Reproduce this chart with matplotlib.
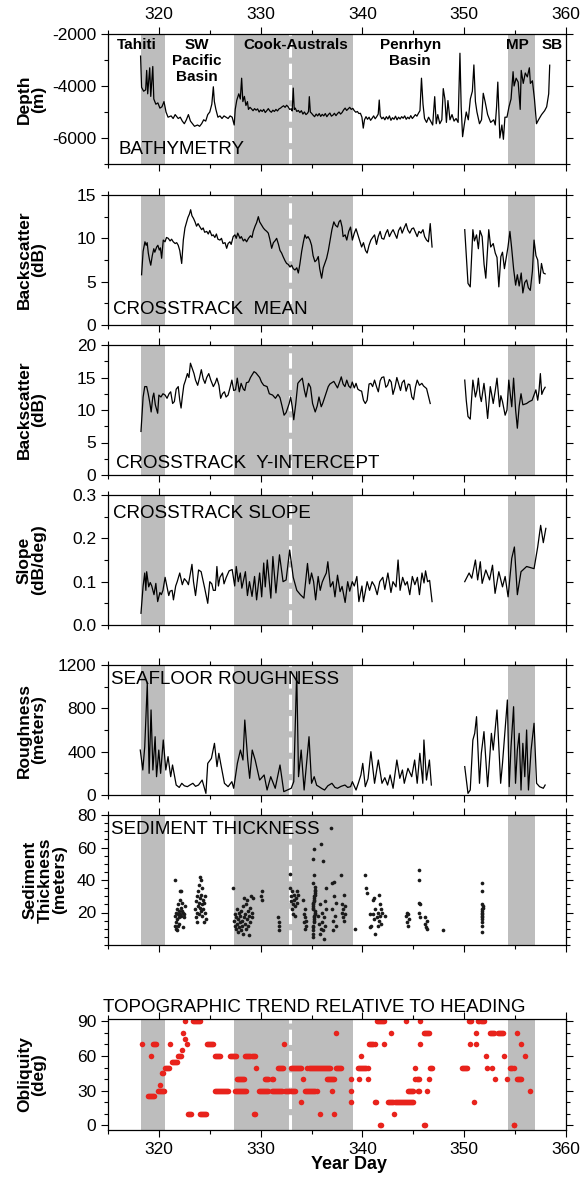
import numpy as np
import matplotlib
matplotlib.use('Agg')
import matplotlib.pyplot as plt
from matplotlib.ticker import MultipleLocator, FixedLocator

plt.rcParams['font.family'] = ['Liberation Sans', 'DejaVu Sans']
plt.rcParams['axes.unicode_minus'] = False

# shaded provinces and the dashed marker (year day)
bands = [(318.24, 320.6), (327.39, 339.12), (354.27, 357.0)]
dash_day = 332.92
regions = ['Tahiti', 'SW\nPacific\nBasin', 'Cook-Australs', 'Penrhyn\nBasin', 'MP', 'SB']
region_day = [317.85, 323.7, 333.45, 344.7, 355.25, 358.6]

bathy_day = [318.2, 318.3, 318.5, 318.7, 318.8, 318.9, 319.1, 319.2, 319.4, 319.5, 319.7, 319.9,
             320.1, 320.3, 320.5, 320.7, 320.9, 321.2, 321.4, 321.6, 321.9, 322.1, 322.3, 322.5,
             322.7, 322.9, 323.1, 323.3, 323.5, 323.8, 324.0, 324.2, 324.4, 324.6, 324.8, 325.0,
             325.2, 325.35, 325.45, 325.6, 325.8, 326.0, 326.2, 326.4, 326.6, 326.8, 327.0, 327.2,
             327.4, 327.5, 327.65, 327.85, 328.0, 328.13, 328.25, 328.4, 328.55, 328.7,
             328.8, 328.95, 329.1, 329.25, 329.4, 329.55, 329.7, 329.85, 330.0, 330.15, 330.3, 330.45,
             330.6, 330.75, 330.9, 331.05, 331.2, 331.35, 331.5, 331.65, 331.8, 331.95, 332.1, 332.25,
             332.4, 332.55, 332.7, 332.85, 333.0, 333.1, 333.2, 333.3, 333.4, 333.55, 333.7, 333.85,
             334.0, 334.15, 334.3, 334.45, 334.6, 334.7, 334.78, 334.88, 335.0, 335.15, 335.3, 335.45,
             335.6, 335.75, 335.9, 336.05, 336.2, 336.35, 336.5, 336.65, 336.8, 336.95, 337.1, 337.25,
             337.4, 337.55, 337.7, 337.85, 338.0, 338.15, 338.3, 338.45, 338.6, 338.75, 338.9, 339.05,
             339.2, 339.35, 339.5, 339.65, 339.8, 339.95, 340.08, 340.2, 340.35, 340.5, 340.65, 340.8,
             340.95, 341.1, 341.25, 341.4, 341.55, 341.65, 341.75, 341.9, 342.05, 342.2, 342.35, 342.5,
             342.65, 342.8, 342.95, 343.1, 343.25, 343.4, 343.55, 343.7, 343.85, 344.0, 344.15, 344.3,
             344.45, 344.6, 344.75, 344.9, 345.05, 345.2, 345.35, 345.5, 345.65, 345.8, 345.95, 346.1,
             346.3, 346.5, 346.7, 346.9, 347.1, 347.25, 347.4, 347.6, 347.8, 347.94, 348.1, 348.25,
             348.4, 348.6, 348.8, 349.0, 349.2, 349.4, 349.58, 349.7, 349.84, 350.0, 350.2, 350.4,
             350.6, 350.8, 350.95, 351.1, 351.25, 351.5, 351.7, 351.87, 352.05, 352.3, 352.6, 352.9,
             353.05, 353.18, 353.3, 353.5, 353.7, 353.85, 354.0, 354.2, 354.4, 354.6, 354.8, 354.9,
             355.1, 355.3, 355.5, 355.6, 355.8, 356.0, 356.2, 356.4, 356.5, 356.7, 356.9, 357.1,
             357.3, 357.6, 357.9, 358.1, 358.3, 358.4]
bathy_m = [-2850, -4050, -4200, -4150, -3400, -4300, -3300, -4400, -3250, -4500, -4700, -4650,
           -4850, -4800, -4600, -5000, -5200, -5150, -5250, -5100, -5250, -5200, -5350, -5450,
           -5300, -5100, -5350, -5450, -5550, -5500, -5550, -5450, -5300, -5350, -5100, -5000,
           -4700, -4030, -4600, -4900, -5200, -5150, -5250, -5150, -5200, -5250, -5150, -5200,
           -5500, -4900, -4550, -4300, -4500, -3700, -4600, -4400, -4750, -4600,
           -4900, -4820, -4880, -4950, -4870, -4930, -4880, -5000, -4920, -4980, -4900, -5020,
           -4950, -4870, -4960, -5010, -4930, -4980, -4900, -4960, -4880, -4850, -4800, -4760,
           -4820, -4740, -4800, -4900, -4880, -4960, -4080, -4900, -4850, -4980, -4940, -5020,
           -4950, -5080, -5000, -5100, -5050, -4980, -4410, -5000, -5050, -5120, -5180, -5080,
           -5150, -5060, -5170, -5090, -5150, -5060, -5180, -5100, -5040, -5160, -5120, -5050,
           -5140, -5060, -5000, -5080, -5020, -4920, -4850, -4940, -4880, -4820, -4900, -4860,
           -4950, -5010, -4980, -5060, -5050, -5200, -5620, -5300, -5180, -5280, -5200, -5320,
           -5240, -5150, -5260, -5180, -5080, -4540, -5150, -5260, -5200, -5300, -5180, -5270,
           -5150, -5320, -5220, -5280, -5160, -5300, -5200, -5270, -5180, -5240, -5150, -5280,
           -5200, -5260, -5140, -5250, -5180, -5100, -5160, -5050, -4950, -3700, -4700, -5250,
           -5400, -5200, -5350, -5500, -4410, -5450, -5100, -5450, -5300, -4100, -4500, -5400,
           -4560, -5300, -5100, -5350, -5250, -5400, -2740, -4800, -5950, -5500, -5000, -5300,
           -4500, -4200, -3190, -4600, -5000, -5450, -5300, -4280, -4600, -5100, -5400, -5300,
           -5500, -4800, -3850, -6000, -5500, -6050, -5200, -5200, -4800, -4500, -3450, -4000,
           -3700, -3850, -4900, -3400, -3900, -3500, -3650, -3300, -3900, -3800, -4500, -5450,
           -5300, -5100, -4950, -4800, -4300, -3200]

mean_day = [318.3, 318.45, 318.63, 318.75, 318.85, 318.96, 319.08, 319.2, 319.35, 319.5, 319.6, 319.78,
            319.9, 320.04, 320.15, 320.27, 320.43, 320.6, 320.75, 320.92, 321.1, 321.25, 321.41, 321.6,
            321.75, 321.9, 322.05, 322.15, 322.24, 322.4, 322.56, 322.7, 322.85, 323.0, 323.12, 323.25,
            323.4, 323.55, 323.7, 323.85, 324.04, 324.2, 324.35, 324.5, 324.7, 324.85, 325.0, 325.2,
            325.34, 325.5, 325.65, 325.8, 326.0, 326.15, 326.3, 326.5, 326.66, 326.8, 326.98, 327.1,
            327.3, 327.47, 327.6, 327.75, 327.97, 328.1, 328.3, 328.45, 328.62, 328.8, 329.0, 329.15,
            329.27, 329.45, 329.6, 329.77, 329.9, 330.05, 330.26, 330.4, 330.6, 330.75, 330.9, 331.08,
            331.25, 331.4, 331.57, 331.75, 331.9, 332.06, 332.2, 332.4, 332.55, 332.7, 332.88, 333.05,
            333.2, 333.37, 333.55, 333.7, 333.85, 334.03, 334.2, 334.35, 334.5, 334.65, 334.84, 335.0,
            335.15, 335.33, 335.5, 335.66, 335.8, 335.99, 336.15, 336.3, 336.48, 336.65, 336.82,
            337.0, 337.19, 337.35, 337.55, 337.7, 337.84, 338.0, 338.1, 338.3,
            338.46, 338.65, 338.83, 339.01, 339.2, 339.37, 339.55, 339.75, 339.92, 340.1, 340.3, 340.46,
            340.65, 340.83, 341.0, 341.19, 341.38, 341.55, 341.74, 341.9, 342.1, 342.3, 342.47, 342.65,
            342.85, 343.01, 343.2, 343.38, 343.55, 343.74, 343.9, 344.1, 344.29, 344.45, 344.65, 344.85,
            345.02, 345.2, 345.38, 345.55, 345.75, 345.95, 346.11, 346.3, 346.48, 346.66, 346.84, 348.0,
            350.05, 350.2, 350.37, 350.59, 350.85, 351.0, 351.21, 351.39, 351.55, 351.76, 351.95, 352.12,
            352.41, 352.6, 352.85, 353.05, 353.22, 353.4, 353.6, 353.76, 353.95, 354.13, 354.3, 354.49,
            354.65, 354.85, 355.05, 355.22, 355.4, 355.6, 355.76, 355.95, 356.13, 356.3, 356.49, 356.7,
            356.86, 357.05, 357.22, 357.4, 357.59, 357.78, 357.95]
mean_db = [5.8, 8.5, 9.6, 9.2, 9.5, 8.3, 7.5, 6.9, 8.0, 8.8, 8.4, 9.0,
           9.2, 8.65, 8.9, 7.7, 9.8, 9.6, 10.1, 10.0, 9.7, 9.9, 9.6, 9.4,
           9.5, 9.2, 8.6, 7.8, 7.1, 9.8, 11.2, 11.8, 12.4, 12.8, 13.3, 12.6,
           12.3, 11.9, 11.4, 11.7, 11.3, 11.0, 11.2, 10.7, 10.8, 10.5, 10.9, 10.3,
           10.4, 10.1, 10.5, 9.9, 9.8, 10.0, 9.4, 9.5, 8.85, 9.4, 9.6, 9.3,
           10.2, 10.4, 10.0, 10.6, 10.0, 10.2, 9.7, 9.9, 9.6, 10.0, 10.3, 10.1,
           10.8, 11.4, 11.8, 12.5, 11.9, 11.6, 11.2, 11.0, 10.8, 10.6, 9.9, 8.85,
           9.5, 9.7, 10.0, 9.3, 8.6, 8.3, 7.9, 7.4, 7.1, 7.0, 6.7, 6.9,
           6.5, 6.35, 6.6, 6.0, 7.0, 8.5, 9.6, 10.4, 10.0, 10.2, 9.8, 9.2,
           8.0, 7.3, 7.5, 7.9, 6.5, 5.4, 6.6, 7.1, 7.7, 8.6, 9.8,
           11.0, 11.9, 11.5, 11.3, 11.9, 12.1, 11.3, 10.2, 10.4,
           9.8, 10.8, 11.3, 9.8, 10.6, 11.1, 10.4, 9.6, 9.0, 9.5, 8.6, 8.3,
           9.2, 9.8, 10.1, 10.4, 9.3, 10.2, 10.8, 10.0, 9.9, 10.6, 11.0, 10.2,
           10.7, 11.0, 10.5, 10.0, 10.9, 11.3, 10.6, 11.2, 11.7, 11.0, 10.6, 11.1,
           11.2, 10.7, 10.2, 10.8, 10.6, 11.0, 10.2, 9.8, 9.6, 11.7, 9.0, np.nan,
           11.0, 8.0, 4.8, 4.4, 11.0, 9.7, 10.4, 8.8, 10.9, 10.2, 7.0, 5.4,
           11.0, 9.0, 9.4, 8.3, 7.8, 4.4, 7.9, 8.4, 6.5, 7.8, 9.0, 10.8,
           9.0, 6.5, 4.6, 5.8, 4.5, 6.0, 3.7, 4.9, 5.2, 4.3, 4.0, 6.2,
           9.8, 8.0, 7.5, 4.8, 7.1, 6.0, 5.9]

icpt_day = [318.24, 318.45, 318.61, 318.8, 318.95, 319.1, 319.24, 319.4, 319.5, 319.65, 319.88, 320.0,
            320.2, 320.4, 320.61, 320.8, 321.0, 321.16, 321.35, 321.52, 321.7, 321.9, 322.05, 322.18,
            322.3, 322.45, 322.6, 322.8, 322.95, 323.1, 323.25, 323.45, 323.6, 323.81, 324.0, 324.17,
            324.35, 324.53, 324.7, 324.9, 325.1, 325.35, 325.55, 325.7, 325.9, 326.07, 326.25, 326.44,
            326.6, 326.8, 327.0, 327.17, 327.35, 327.53, 327.7, 327.9, 328.08, 328.3, 328.44, 328.6,
            328.81, 329.0, 329.2, 329.35, 329.54, 329.75, 329.9, 330.08, 330.3, 330.63, 330.85, 331.17,
            331.45, 331.7, 331.9, 332.1, 332.3, 332.5, 332.8, 332.95, 333.1, 333.25, 333.45, 333.65,
            333.8, 334.09, 334.3, 334.45, 334.7, 334.9, 335.1, 335.36, 335.55, 335.73, 335.95, 336.09,
            336.3, 336.64, 336.8, 337.0, 337.19, 337.4, 337.55, 337.8, 337.92, 338.1, 338.28, 338.46,
            338.65, 338.83, 339.0, 339.2, 339.37, 339.55, 339.74, 339.92, 340.1, 340.28, 340.46, 340.65,
            340.83, 341.0, 341.19, 341.4, 341.56, 341.74, 341.9, 342.1, 342.3, 342.47, 342.65, 342.83,
            343.0, 343.2, 343.38, 343.56, 343.74, 343.9, 344.1, 344.29, 344.5, 344.65, 344.85, 345.02,
            345.2, 345.38, 345.6, 345.84, 346.0, 346.3, 346.5, 346.66, 348.0,
            350.05, 350.2, 350.37, 350.59, 350.85, 351.1, 351.25, 351.39, 351.55, 351.68, 351.94, 352.1,
            352.3, 352.56, 352.7, 352.85, 353.05, 353.22, 353.47, 353.6, 353.76, 354.02, 354.2, 354.38,
            354.52, 354.67, 354.85, 355.05, 355.22, 355.4, 355.58, 355.76, 356.13, 356.4, 356.67, 357.04,
            357.22, 357.35, 357.48, 357.62, 357.77, 357.95]
icpt_db = [6.7, 12.0, 13.6, 13.6, 12.5, 11.2, 9.7, 12.0, 12.6, 10.8, 9.5, 12.3,
           12.0, 12.5, 12.3, 11.8, 12.5, 12.8, 11.0, 11.3, 13.2, 13.6, 11.5, 10.3,
           12.0, 13.8, 14.5, 15.6, 15.0, 17.2, 16.5, 15.6, 14.6, 13.8, 15.0, 16.2,
           14.8, 14.1, 15.0, 15.6, 14.6, 13.6, 14.2, 14.9, 13.8, 11.8, 12.5, 12.8,
           12.0, 12.3, 13.5, 14.6, 13.0, 13.1, 14.9, 12.8, 14.1, 13.2, 13.0, 14.2,
           14.3, 15.0, 15.5, 15.9, 15.7, 15.3, 15.0, 14.3, 13.8, 13.6, 12.5, 12.3,
           11.8, 12.4, 11.9, 10.6, 9.2, 9.6, 11.0, 12.0, 10.5, 8.5, 11.0, 14.1,
           14.4, 14.9, 13.0, 12.0, 14.1, 13.5, 11.0, 9.7, 10.6, 12.0, 10.5, 11.0,
           12.0, 13.6, 14.0, 14.2, 14.4, 13.8, 13.4, 14.5, 15.1, 14.0, 13.6, 14.6,
           13.7, 13.4, 14.3, 13.4, 14.1, 13.2, 13.0, 12.9, 11.5, 11.0, 11.5, 14.0,
           14.1, 13.6, 14.6, 13.5, 12.8, 14.5, 15.0, 15.1, 13.5, 13.8, 14.7, 14.3,
           12.4, 13.5, 15.0, 14.0, 13.0, 14.2, 14.6, 12.9, 14.0, 13.9, 12.0, 11.6,
           13.5, 14.6, 13.8, 14.1, 13.7, 13.3, 12.0, 11.0, np.nan,
           14.6, 11.5, 9.0, 8.6, 14.6, 12.0, 13.0, 14.9, 12.2, 11.3, 14.1, 12.0,
           8.7, 13.6, 12.4, 11.0, 13.0, 14.9, 10.5, 12.2, 11.3, 9.2, 10.0, 14.6,
           12.5, 10.5, 14.9, 10.0, 7.2, 10.6, 12.5, 10.8, 11.0, 11.3, 11.5, 13.1,
           11.5, 13.0, 15.6, 12.4, 13.0, 13.5]

slope_day = [318.24, 318.45, 318.61, 318.72, 318.8, 319.0, 319.15, 319.3, 319.52, 319.7, 319.88, 320.1,
             320.24, 320.4, 320.61, 320.8, 320.97, 321.1, 321.3, 321.43, 321.65, 321.8, 322.05, 322.3,
             322.5, 322.75, 322.9, 323.25, 323.4, 323.6, 323.9, 324.15, 324.5, 324.8, 325.0, 325.2,
             325.35, 325.55, 325.7, 325.85, 326.0, 326.25, 326.4, 326.62, 326.9, 327.2, 327.45, 327.6,
             327.8, 328.0, 328.15, 328.5, 328.7, 328.9, 329.15, 329.4, 329.6, 329.9, 330.1, 330.3,
             330.45, 330.65, 331.0, 331.2, 331.5, 331.85, 332.2, 332.5, 332.85, 333.2, 333.55, 333.9,
             334.25, 334.6, 334.8, 335.0, 335.2, 335.4, 335.65, 335.85, 336.05, 336.25, 336.45, 336.6,
             336.85, 337.1, 337.3, 337.55, 337.8, 338.0, 338.3, 338.55, 338.75, 339.0, 339.2, 339.45,
             339.65, 339.95, 340.1, 340.46, 340.7, 340.95, 341.2, 341.45, 341.7, 342.0, 342.2, 342.5,
             342.8, 343.0, 343.3, 343.5, 343.7, 343.95, 344.2, 344.4, 344.65, 344.9, 345.15, 345.4,
             345.6, 345.85, 346.05, 346.2, 346.4, 346.6, 346.84, 348.0,
             350.05, 350.48, 350.74, 351.1, 351.32, 351.58, 351.76, 352.12, 352.49, 352.78, 353.03, 353.4,
             353.76, 354.02, 354.31, 354.67, 354.93, 355.22, 355.58, 356.13, 356.86, 357.22, 357.51, 357.77,
             358.02]
slope_val = [0.027, 0.090, 0.120, 0.080, 0.123, 0.088, 0.098, 0.090, 0.070, 0.096, 0.054, 0.075,
             0.070, 0.080, 0.110, 0.088, 0.068, 0.078, 0.080, 0.058, 0.090, 0.100, 0.120, 0.093,
             0.107, 0.100, 0.093, 0.140, 0.100, 0.068, 0.127, 0.123, 0.085, 0.050, 0.100, 0.095,
             0.080, 0.080, 0.135, 0.090, 0.110, 0.120, 0.095, 0.110, 0.125, 0.128, 0.090, 0.135,
             0.100, 0.120, 0.085, 0.123, 0.068, 0.100, 0.066, 0.112, 0.058, 0.120, 0.065, 0.143,
             0.088, 0.150, 0.062, 0.158, 0.074, 0.162, 0.100, 0.104, 0.173, 0.110, 0.080, 0.070,
             0.062, 0.142, 0.095, 0.120, 0.100, 0.058, 0.112, 0.080, 0.099, 0.110, 0.120, 0.146,
             0.088, 0.100, 0.065, 0.115, 0.077, 0.089, 0.052, 0.100, 0.078, 0.100, 0.090, 0.112,
             0.054, 0.090, 0.054, 0.100, 0.080, 0.100, 0.090, 0.070, 0.100, 0.110, 0.082, 0.120,
             0.075, 0.100, 0.088, 0.150, 0.080, 0.110, 0.092, 0.100, 0.070, 0.112, 0.093, 0.110,
             0.070, 0.120, 0.097, 0.125, 0.100, 0.103, 0.054, np.nan,
             0.100, 0.120, 0.108, 0.150, 0.104, 0.146, 0.096, 0.127, 0.104, 0.138, 0.073, 0.123,
             0.088, 0.112, 0.065, 0.154, 0.180, 0.070, 0.123, 0.135, 0.130, 0.180, 0.230, 0.190,
             0.223]

rough_day = [318.17, 318.42, 318.61, 318.86, 319.04, 319.23, 319.41, 319.63, 319.77, 319.99, 320.17, 320.43,
             320.68, 320.9, 321.16, 321.34, 321.7, 322.0, 322.25, 322.5, 322.8, 323.1, 323.34, 323.6,
             323.89, 324.25, 324.62, 324.8, 325.16, 325.46, 325.71, 325.89, 326.07, 326.44, 326.8, 327.17,
             327.35, 327.71, 328.01, 328.26, 328.44, 328.73, 328.92, 329.17, 329.46, 329.9, 330.34, 330.63,
             330.99, 331.43, 331.9, 332.27, 332.63, 333.0, 333.25, 333.54, 333.72, 333.98, 334.27, 334.75,
             335.0, 335.26, 335.5, 335.73, 336.0, 336.28, 336.6, 337.0, 337.3, 337.55, 337.9, 338.28,
             338.55, 338.83, 339.01, 339.37, 339.6, 339.85, 340.03, 340.28, 340.55, 340.83, 341.19, 341.56,
             341.92, 342.2, 342.47, 342.72, 343.01, 343.38, 343.67, 343.93, 344.11, 344.47, 344.84, 345.13,
             345.38, 345.64, 345.93, 346.04, 346.29, 346.58, 346.77, 348.0,
             350.05, 350.37, 350.59, 350.85, 351.03, 351.21, 351.5, 351.68, 351.94, 352.3, 352.67, 352.85,
             353.22, 353.58, 353.76, 354.24, 354.42, 354.6, 354.85, 355.04, 355.22, 355.4, 355.58, 355.76,
             355.95, 356.13, 356.31, 356.57, 356.86, 357.11, 357.4, 357.77, 357.95]
rough_m = [415, 231, 446, 1031, 200, 785, 231, 538, 169, 415, 200, 508,
           231, 354, 169, 277, 92, 70, 108, 85, 77, 95, 108, 80,
           92, 138, 15, 292, 338, 477, 262, 385, 292, 108, 77, 123,
           62, 292, 415, 323, 692, 323, 154, 415, 323, 138, 185, 46,
           169, 62, 277, 31, 46, 62, 123, 1138, 169, 415, 46, 538,
           108, 169, 90, 77, 60, 46, 85, 108, 70, 62, 80, 92,
           70, 77, 123, 46, 110, 185, 292, 77, 150, 400, 108, 323,
           108, 160, 92, 185, 62, 323, 154, 231, 108, 246, 169, 323,
           108, 385, 108, 508, 138, 323, 92, np.nan,
           262, 15, 46, 508, 569, 723, 108, 385, 585, 77, 569, 415,
           785, 108, 292, 877, 77, 446, 815, 108, 415, 569, 46, 477,
           169, 600, 46, 415, 662, 108, 77, 62, 92]

sed_day = [321.55, 321.6, 321.62, 321.65, 321.7, 321.72, 321.75, 321.8, 321.82, 321.85, 321.9, 321.92,
           321.95, 322.0, 322.02, 322.05, 322.1, 322.12, 322.15, 322.2, 322.22, 322.25, 322.3, 322.35,
           322.4, 322.45, 322.5, 322.55,
           323.55, 323.6, 323.65, 323.7, 323.72, 323.75, 323.8, 323.85, 323.9, 323.92, 323.95, 324.0,
           324.02, 324.05, 324.1, 324.12, 324.15, 324.2, 324.22, 324.25, 324.3, 324.35, 324.4, 324.45,
           324.5, 324.55, 324.6,
           327.3, 327.4, 327.45, 327.5, 327.55, 327.6, 327.65, 327.7, 327.75, 327.8, 327.85, 327.9,
           327.95, 328.0, 328.05, 328.1, 328.15, 328.2, 328.25, 328.3, 328.35, 328.4, 328.45, 328.5,
           328.55, 328.6, 328.65, 328.7, 328.75, 328.8, 328.85, 328.9, 328.95, 329.0, 329.05, 329.1,
           329.15, 329.2, 330.05, 330.1, 330.12, 331.75, 331.8, 331.82, 331.85,
           332.85, 332.9, 332.95, 333.0, 333.05, 333.1, 333.15, 333.2, 333.25, 333.3, 333.35, 333.4,
           333.5, 333.55, 333.6, 333.65,
           334.2, 334.25, 334.3, 334.35, 334.38, 334.4, 334.45, 334.5,
           335.1, 335.12, 335.14, 335.16, 335.18, 335.2, 335.22, 335.24, 335.26, 335.28, 335.3, 335.32,
           335.34, 335.11, 335.13, 335.15, 335.17, 335.19, 335.21, 335.23, 335.25, 335.27, 335.29, 335.31,
           335.33, 335.35, 335.3, 335.12, 335.2, 335.15, 335.25, 335.6, 335.7, 335.8, 335.9,
           335.85, 335.95, 336.0, 336.05, 336.1, 336.15, 336.2, 336.25, 336.3, 336.35, 336.4, 336.45,
           336.9, 337.0, 337.05, 337.1, 337.15, 337.2, 337.25, 337.3, 337.4, 337.45,
           337.9, 337.95, 338.0, 338.05, 338.1, 338.15, 338.2, 338.25, 338.3, 339.3,
           340.3, 340.35, 340.4, 340.7, 340.75, 340.8, 341.0, 341.05, 341.1, 341.15, 341.2, 341.25,
           341.4, 341.5, 341.55, 341.6, 341.65, 341.7, 341.75, 341.8, 341.85, 341.9, 342.2,
           344.3, 344.35, 344.4, 344.45, 344.5, 344.55,
           345.55, 345.56, 345.58, 345.6, 345.62, 345.63, 346.1, 346.15, 346.2, 346.3, 346.35, 347.9,
           351.7, 351.72, 351.75, 351.73, 351.76, 351.78, 351.8, 351.72, 351.77, 351.74, 351.79, 351.71,
           351.75, 351.8, 351.77]
sed_m = [40, 12, 18, 10, 20, 14, 22, 16, 9, 19, 12, 25,
         17, 21, 13, 28, 19, 33, 23, 18, 33, 21, 26, 11,
         20, 17, 19, 24,
         22, 27, 17, 30, 20, 14, 24, 33, 26, 19, 37, 23,
         29, 42, 40, 21, 31, 25, 35, 18, 28, 22, 14, 26,
         20, 30, 16,
         35, 15, 12, 19, 10, 17, 22, 13, 8, 16, 20, 11,
         14, 18, 9, 21, 15, 12, 24, 7, 17, 29, 13, 19,
         10, 25, 16, 28, 12, 21, 18, 6, 23, 14, 30, 20,
         17, 29, 30, 33, 28, 17, 12, 9, 14,
         44, 35, 30, 27, 22, 33, 19, 25, 31, 28, 18, 24,
         29, 33, 26, 31,
         28, 14, 19, 10, 22, 17, 12, 15,
         5, 7, 9, 11, 12, 14, 15, 16, 17, 18, 19, 20,
         21, 22, 23, 24, 25, 26, 27, 28, 29, 30, 31, 32,
         33, 34, 36, 38, 43, 53, 59, 18, 13, 25, 10,
         7, 62, 14, 20, 9, 52, 17, 4, 27, 12, 35, 22,
         72, 38, 22, 15, 9, 30, 39, 18, 26, 12,
         43, 25, 20, 17, 22, 31, 15, 19, 24, 10,
         43, 35, 32, 11, 19, 12, 28, 19, 16, 29, 22, 7,
         17, 12, 20, 31, 15, 25, 18, 22, 13, 20, 18,
         18, 14, 20, 12, 19, 16,
         46, 40, 26, 20, 17, 25, 17, 13, 11, 15, 10, 9,
         38, 33, 25, 22, 20, 18, 23, 16, 14, 12, 8, 21,
         19, 24, 17]

obl_day = [318.32, 318.9, 319.0, 319.1, 319.2, 319.3, 319.4, 319.5, 319.19, 319.45, 319.55, 319.65,
           319.75, 319.9, 320.0, 320.1, 320.2, 320.3, 320.4, 320.5, 320.1, 320.3, 320.4, 320.6,
           320.7, 320.8, 320.9, 321.0, 321.1, 321.3, 321.4, 321.5, 321.6, 321.7, 321.8, 321.9,
           322.0, 322.1, 322.2, 322.25, 322.4, 322.55, 322.6, 322.8, 322.9, 323.0, 323.1, 323.2,
           323.35, 323.45, 323.55, 323.65, 323.75, 323.85, 323.95, 324.05, 324.0, 324.1, 324.2, 324.3,
           324.4, 324.5, 324.6, 324.7, 324.8, 324.9, 325.0, 325.1, 325.2, 325.3, 325.5, 325.6,
           325.7, 325.8, 325.9, 326.0, 325.5, 325.6, 325.7, 325.8, 325.9, 326.0, 326.1, 326.2,
           326.3, 326.4, 326.5, 326.6, 326.7, 326.8, 327.0, 327.1, 327.2, 327.3, 327.4, 327.5,
           327.6, 327.5, 327.6, 327.7, 327.8, 327.9, 328.0, 328.1, 328.2, 328.3, 328.4, 328.5,
           328.6, 327.7, 327.8, 327.9, 328.0, 328.1, 328.2, 328.3, 328.4, 328.5, 328.6, 328.7,
           328.8, 328.9, 329.0, 329.1, 329.2, 329.3, 329.4, 329.3, 329.4, 329.5, 329.8, 329.9,
           330.0, 330.1, 330.2, 330.3, 330.4, 330.5, 330.6, 330.7, 330.4, 330.5, 330.6, 330.75,
           331.1, 331.25, 331.1, 331.2, 331.3, 331.4, 331.5, 331.6, 331.7, 331.8, 331.9, 332.0,
           332.1, 331.7, 331.8, 331.9, 332.0, 332.1, 332.2, 332.3, 332.4, 332.5, 332.6, 332.7,
           332.8, 333.0, 333.1, 333.2, 333.3, 333.4, 333.0, 333.1, 333.2, 333.3, 333.4, 333.5,
           333.6, 333.7, 333.8, 333.9, 334.0, 334.0, 334.2, 334.35, 334.45, 334.55, 334.65, 334.75,
           334.85, 334.95, 335.05, 335.15, 335.25, 335.35, 335.5, 334.6, 334.7, 334.8, 334.9, 335.0,
           335.1, 335.2, 335.3, 335.4, 335.5, 335.6, 335.7, 335.8, 335.9, 336.0, 336.1, 336.2,
           336.3, 336.4, 336.5, 336.6, 336.7, 336.8, 335.8, 336.5, 336.6, 336.7, 336.8, 336.9,
           337.0, 337.1, 337.2, 337.0, 337.2, 337.37, 337.4, 337.5, 337.6, 337.7, 337.8, 337.9,
           338.85, 338.85, 338.9, 339.55, 339.65, 339.75, 339.85, 339.95, 340.05, 340.15, 340.25, 340.35,
           340.5, 339.9, 339.7, 340.5, 340.65, 340.75, 340.85, 340.95, 341.05, 341.2, 341.2, 341.3,
           341.4, 341.5, 341.6, 341.7, 341.8, 341.9, 342.0, 342.1, 341.75, 341.85, 342.1, 342.5,
           342.6, 342.7, 342.8, 342.9, 343.0, 342.8, 343.1, 343.2, 343.3, 343.4, 343.5, 343.6,
           343.7, 343.8, 343.9, 344.0, 344.1, 344.2, 344.3, 344.4, 344.5, 344.6, 344.7, 344.8,
           344.9, 345.0, 344.3, 344.5, 344.6, 344.7, 344.8, 344.9, 345.0, 345.2, 345.2, 345.4,
           345.5, 345.6, 345.5, 345.6, 345.7, 345.7, 346.0, 346.1, 346.0, 346.1, 346.2, 346.3,
           346.4, 346.5, 346.3, 346.5, 346.6, 346.7, 346.85, 349.75, 349.85, 349.95, 350.05, 350.15,
           350.3, 350.5, 350.6, 350.7, 350.6, 351.0, 351.2, 351.2, 351.4, 351.5, 351.6, 351.7,
           351.8, 351.9, 352.1, 352.2, 352.5, 352.6, 352.7, 352.8, 352.9, 353.3, 353.4, 353.5,
           353.6, 353.7, 353.8, 352.7, 353.0, 353.95, 354.2, 354.5, 354.6, 354.7, 354.85, 354.85,
           354.9, 355.2, 355.2, 355.3, 355.4, 355.5, 355.6, 355.6, 355.95, 356.5]
obl_deg = [70, 25, 25, 25, 25, 25, 25, 25, 60, 70, 70, 70,
           70, 30, 30, 30, 30, 30, 30, 30, 35, 45, 45, 50,
           50, 50, 50, 50, 70, 55, 55, 55, 55, 55, 55, 60,
           60, 60, 60, 65, 80, 90, 75, 70, 10, 10, 10, 10,
           90, 90, 90, 90, 90, 90, 90, 90, 10, 10, 10, 10,
           10, 10, 10, 70, 70, 70, 70, 70, 70, 70, 60, 60,
           60, 60, 60, 60, 30, 30, 30, 30, 30, 30, 30, 30,
           30, 30, 30, 30, 30, 30, 60, 60, 60, 60, 60, 60,
           60, 30, 30, 30, 30, 30, 30, 30, 30, 30, 30, 30,
           30, 40, 40, 40, 40, 40, 40, 40, 40, 60, 60, 60,
           60, 60, 60, 60, 60, 60, 60, 10, 10, 50, 30, 30,
           30, 30, 30, 30, 30, 30, 30, 30, 40, 40, 40, 40,
           40, 40, 30, 30, 30, 30, 30, 30, 30, 30, 30, 30,
           30, 50, 50, 50, 50, 50, 50, 70, 30, 30, 30, 30,
           30, 30, 30, 30, 30, 30, 50, 50, 50, 50, 50, 50,
           50, 50, 50, 50, 50, 20, 40, 30, 30, 30, 30, 30,
           30, 30, 30, 30, 30, 30, 30, 50, 50, 50, 50, 50,
           50, 50, 50, 50, 50, 50, 50, 50, 50, 50, 50, 50,
           50, 50, 50, 50, 50, 50, 10, 40, 40, 40, 40, 40,
           40, 40, 40, 30, 10, 80, 50, 50, 50, 50, 50, 50,
           40, 30, 20, 50, 50, 50, 50, 50, 50, 50, 50, 50,
           50, 60, 40, 40, 70, 70, 70, 70, 70, 70, 20, 20,
           90, 90, 90, 90, 90, 90, 90, 90, 0, 0, 70, 20,
           20, 20, 20, 20, 20, 80, 10, 20, 20, 20, 20, 20,
           20, 20, 20, 20, 20, 20, 20, 20, 20, 20, 20, 20,
           20, 20, 90, 30, 30, 30, 30, 30, 30, 50, 40, 40,
           40, 40, 30, 30, 90, 70, 0, 0, 80, 80, 80, 80,
           80, 80, 30, 40, 50, 50, 50, 50, 50, 50, 50, 50,
           50, 90, 90, 90, 70, 20, 80, 70, 90, 90, 90, 90,
           90, 90, 60, 50, 80, 80, 80, 80, 80, 80, 80, 80,
           80, 80, 80, 50, 40, 60, 40, 50, 50, 50, 50, 0,
           0, 80, 40, 40, 40, 40, 40, 70, 60, 30]

# pixel layout of the seven panels (top, bottom) in a 582 x 1180 figure
panel_px = [(34, 164), (195, 325), (345, 475), (495, 625), (665, 795), (815, 945), (1019, 1130)]
W, H = 582, 1180
fig = plt.figure(figsize=(W / 100, H / 100), dpi=100)
axes = []
for top, bot in panel_px:
    axes.append(fig.add_axes([108 / W, (H - bot) / H, 458 / W, (bot - top) / H]))

shade = '#bdbdbd'
lab_kw = dict(fontsize=12.5, fontweight='bold', linespacing=0.95)


def setup(ax, ylim, major, minor):
    for a, b in bands:
        ax.axvspan(a, b, color=shade, lw=0, zorder=0)
    ax.axvline(dash_day, color='white', lw=2.2, dashes=(5, 2), zorder=1)
    ax.set_xlim(315, 360)
    ax.set_ylim(*ylim)
    ax.xaxis.set_major_locator(MultipleLocator(10))
    ax.xaxis.set_minor_locator(MultipleLocator(5))
    if isinstance(major, list):
        ax.yaxis.set_major_locator(FixedLocator(major))
    else:
        ax.yaxis.set_major_locator(MultipleLocator(major))
    ax.yaxis.set_minor_locator(MultipleLocator(minor))
    ax.tick_params(which='both', direction='out', top=True, right=True, width=0.8,
                   labelsize=12.5, labelbottom=False)
    ax.tick_params(which='major', length=5)
    ax.tick_params(which='minor', length=3)
    for s in ax.spines.values():
        s.set_linewidth(0.9)


ax = axes[0]
setup(ax, (-7000, -2000), 2000, 1000)
ax.plot(bathy_day, bathy_m, color='black', lw=0.9, zorder=2)
ax.tick_params(axis='x', labeltop=True)
ax.set_ylabel('Depth\n(m)', **lab_kw)
ax.text(0.024, 0.11, 'BATHYMETRY', transform=ax.transAxes, fontsize=13.5, va='center')
for name, d in zip(regions, region_day):
    ax.text(d, -2150, name, ha='center', va='top', fontsize=11, fontweight='bold',
            linespacing=1.2, zorder=3)

ax = axes[1]
setup(ax, (0, 15), 5, 2.5)
ax.plot(mean_day, mean_db, color='black', lw=0.9, zorder=2)
ax.set_ylabel('Backscatter\n(dB)', **lab_kw)
ax.text(0.011, 0.12, 'CROSSTRACK  MEAN', transform=ax.transAxes, fontsize=13.5, va='center')

ax = axes[2]
setup(ax, (0, 20), 5, 2.5)
ax.plot(icpt_day, icpt_db, color='black', lw=0.9, zorder=2)
ax.set_ylabel('Backscatter\n(dB)', **lab_kw)
ax.text(0.018, 0.09, 'CROSSTRACK  Y-INTERCEPT', transform=ax.transAxes, fontsize=13.5, va='center')

ax = axes[3]
setup(ax, (0, 0.3), 0.1, 0.05)
ax.plot(slope_day, slope_val, color='black', lw=0.9, zorder=2)
ax.yaxis.set_major_formatter(plt.FormatStrFormatter('%.1f'))
ax.set_ylabel('Slope\n(dB/deg)', **lab_kw)
ax.text(0.01, 0.86, 'CROSSTRACK SLOPE', transform=ax.transAxes, fontsize=13.5, va='center')

ax = axes[4]
setup(ax, (0, 1200), 400, 200)
ax.plot(rough_day, rough_m, color='black', lw=0.9, zorder=2)
ax.set_ylabel('Roughness\n(meters)', **lab_kw)
ax.text(0.006, 0.89, 'SEAFLOOR ROUGHNESS', transform=ax.transAxes, fontsize=13.5, va='center')

ax = axes[5]
setup(ax, (0, 80), [20, 40, 60, 80], 5)
ax.scatter(sed_day, sed_m, s=7, color='#1a1a1a', lw=0, zorder=2)
ax.set_ylabel('Sediment\nThickness\n(meters)', **lab_kw)
ax.text(0.007, 0.89, 'SEDIMENT THICKNESS', transform=ax.transAxes, fontsize=13.5, va='center')

ax = axes[6]
setup(ax, (-4, 92), 30, 10)
ax.scatter(obl_day, obl_deg, s=16, color='#e8231c', lw=0, zorder=2)
ax.tick_params(axis='x', labelbottom=True)
ax.set_ylabel('Obliquity\n(deg)', **lab_kw)
ax.set_xlabel('Year Day', fontsize=13, fontweight='bold')
ax.xaxis.set_label_coords(0.526, -0.23)
ax.text(-0.011, 1.063, 'TOPOGRAPHIC TREND RELATIVE TO HEADING', transform=ax.transAxes,
        fontsize=13.5, va='baseline', ha='left')

for i, ax in enumerate(axes):
    ax.yaxis.set_label_coords(-0.09 if i == 5 else -0.135, 0.5)

fig.savefig('out.png', dpi=100)
